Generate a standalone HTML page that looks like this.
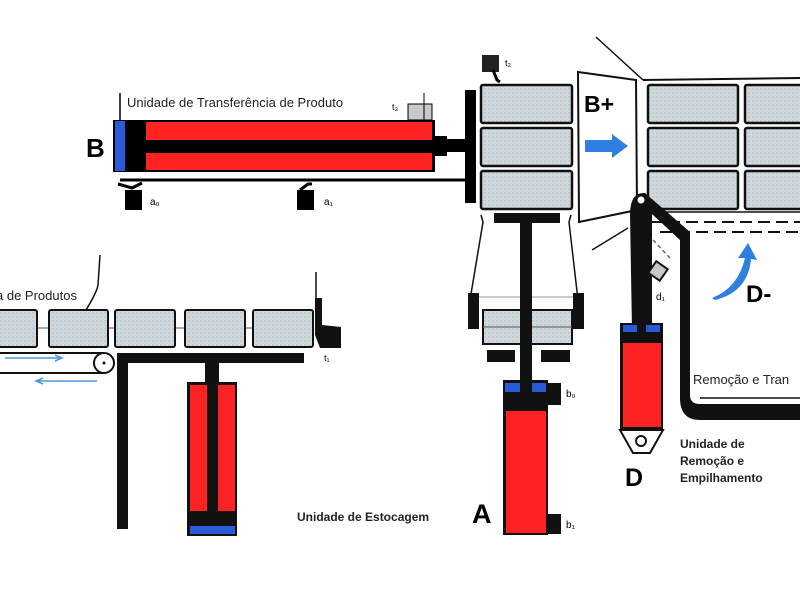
<!DOCTYPE html>
<html><head><meta charset="utf-8"><style>body{margin:0;background:#fff}svg{display:block}text{font-family:"Liberation Sans",sans-serif}</style></head><body>
<svg width="800" height="600" viewBox="0 0 800 600">
<defs><pattern id="g" width="4" height="4" patternUnits="userSpaceOnUse"><rect width="4" height="4" fill="#cfd8dc"/><rect width="2" height="2" fill="#c3ccd0"/></pattern></defs>
<!-- B cylinder -->
<text x="127" y="107" font-size="13" fill="#222">Unidade de Transferência de Produto</text>
<line x1="120" y1="93" x2="120" y2="120" stroke="#000" stroke-width="1.5"/>
<text x="392" y="110" font-size="9">t₃</text>
<rect x="408" y="104" width="24" height="16" fill="#c5c9c9" stroke="#000"/>
<line x1="424" y1="93" x2="424" y2="120" stroke="#000"/>
<rect x="113" y="120" width="322" height="52" fill="#000"/>
<rect x="115" y="121" width="10" height="50" fill="#2a5bd7"/>
<rect x="146" y="122" width="286" height="18" fill="#f22"/>
<rect x="146" y="153" width="286" height="17" fill="#f22"/>
<rect x="432" y="136" width="15" height="20" fill="#000"/>
<rect x="445" y="139" width="22" height="13" fill="#000"/>
<rect x="465" y="90" width="11" height="113" fill="#000"/>
<line x1="120" y1="180" x2="466" y2="180" stroke="#000" stroke-width="3"/>
<text x="86" y="157" font-size="26" font-weight="bold">B</text>
<path d="M118 184 L132 188 L142 183" stroke="#000" stroke-width="3" fill="none"/>
<rect x="125" y="190" width="17" height="20" fill="#000"/>
<text x="150" y="205" font-size="10">a₀</text>
<path d="M300 190 L308 184 L312 184" stroke="#000" stroke-width="3" fill="none"/>
<rect x="297" y="190" width="17" height="20" fill="#000"/>
<text x="324" y="205" font-size="10">a₁</text>
<!-- stack -->
<rect x="482" y="55" width="17" height="17" fill="#222"/>
<path d="M493 70 L497 80 L500 82" stroke="#000" stroke-width="3" fill="none"/>
<text x="505" y="66" font-size="9">t₂</text>
<g fill="url(#g)" stroke="#111" stroke-width="2.5">
<rect x="481" y="85" width="91" height="38" rx="2"/><rect x="481" y="128" width="91" height="38" rx="2"/><rect x="481" y="171" width="91" height="38" rx="2"/>
<rect x="648" y="85" width="90" height="38" rx="2"/><rect x="648" y="128" width="90" height="38" rx="2"/><rect x="648" y="171" width="90" height="38" rx="2"/>
<rect x="745" y="85" width="60" height="38" rx="2"/><rect x="745" y="128" width="60" height="38" rx="2"/><rect x="745" y="171" width="60" height="38" rx="2"/>
</g>
<polygon points="578,72 636,80 637,210 579,222" fill="#fff" stroke="#111" stroke-width="2"/>
<text x="584" y="112" font-size="23" font-weight="bold">B+</text>
<polygon points="585,140 612,140 612,134 628,146 612,158 612,152 585,152" fill="#2f7fe0"/>
<line x1="596" y1="37" x2="643" y2="80" stroke="#111" stroke-width="1.5"/>
<line x1="643" y1="80" x2="800" y2="78" stroke="#111" stroke-width="2"/>
<line x1="640" y1="212" x2="800" y2="212" stroke="#111" stroke-width="1.5"/>
<line x1="650" y1="222" x2="800" y2="222" stroke="#111" stroke-width="2" stroke-dasharray="12,6"/>
<line x1="660" y1="232" x2="800" y2="232" stroke="#111" stroke-width="2" stroke-dasharray="12,6"/>
<line x1="592" y1="250" x2="628" y2="228" stroke="#111" stroke-width="1.5"/>
<!-- D arm -->
<path d="M630 215 Q630 192 645 193 L690 232 L690 395 Q690 404 700 404 L800 404 L800 420 L700 420 Q680 420 680 398 L680 240 L652 214 L652 330 L632 330 Z" fill="#111"/>
<circle cx="641" cy="200" r="3.5" fill="#fff"/>
<line x1="700" y1="398" x2="800" y2="398" stroke="#111" stroke-width="1.5"/>
<line x1="653" y1="240" x2="670" y2="258" stroke="#666" stroke-width="1.5" stroke-dasharray="4,3"/>
<rect x="651" y="264" width="14" height="14" fill="#c5c9c9" stroke="#111" stroke-width="2" transform="rotate(35 658 271)"/>
<text x="656" y="300" font-size="10">d₁</text>
<path d="M712 298 Q738 288 745 258 L738 258 L748 243 L757 260 L751 259 Q748 292 715 300 Z" fill="#2f7fe0"/>
<text x="746" y="302" font-size="24" font-weight="bold">D-</text>
<rect x="632" y="318" width="18" height="10" fill="#111"/>
<rect x="620" y="323" width="43" height="107" fill="#111"/>
<rect x="623" y="325" width="14" height="7" fill="#2a5bd7"/><rect x="646" y="325" width="14" height="7" fill="#2a5bd7"/>
<rect x="623" y="343" width="38" height="84" fill="#f22"/>
<path d="M620 430 L663 430 L650 453 L633 453 Z" fill="#fff" stroke="#111" stroke-width="2"/>
<circle cx="641" cy="441" r="5" fill="#fff" stroke="#111" stroke-width="2"/>
<text x="625" y="486" font-size="25" font-weight="bold">D</text>
<text x="693" y="384" font-size="13" fill="#222">Remoção e Tran</text>
<text x="680" y="448" font-size="12" fill="#222" font-weight="bold">Unidade de</text>
<text x="680" y="465" font-size="12" fill="#222" font-weight="bold">Remoção e</text>
<text x="680" y="482" font-size="12" fill="#222" font-weight="bold">Empilhamento</text>
<!-- A unit -->
<rect x="494" y="213" width="66" height="10" fill="#111"/>
<path d="M481 215 L483 222 L470 300 M571 215 L569 222 L578 300" stroke="#111" stroke-width="1.5" fill="none"/>
<rect x="468" y="293" width="11" height="36" fill="#111"/><rect x="573" y="293" width="11" height="36" fill="#111"/>
<line x1="479" y1="297" x2="573" y2="297" stroke="#999"/>
<rect x="483" y="310" width="89" height="34" fill="url(#g)" stroke="#111" stroke-width="2"/>
<line x1="483" y1="327" x2="572" y2="327" stroke="#555"/>
<rect x="520" y="213" width="12" height="175" fill="#111"/>
<rect x="487" y="350" width="28" height="12" fill="#111"/><rect x="541" y="350" width="29" height="12" fill="#111"/>
<rect x="503" y="380" width="45" height="155" fill="#111"/>
<rect x="505" y="383" width="15" height="9" fill="#2a5bd7"/><rect x="532" y="383" width="14" height="9" fill="#2a5bd7"/>
<rect x="506" y="411" width="40" height="122" fill="#f22"/>
<rect x="548" y="383" width="13" height="22" fill="#111"/><rect x="548" y="514" width="13" height="20" fill="#111"/>
<text x="566" y="397" font-size="10">b₀</text>
<text x="566" y="528" font-size="10">b₁</text>
<text x="472" y="523" font-size="27" font-weight="bold">A</text>
<text x="297" y="521" font-size="12" fill="#222" font-weight="bold">Unidade de Estocagem</text>
<!-- left conveyor -->
<path d="M100 255 L98 285 Q97 292 86 310" stroke="#111" stroke-width="1.5" fill="none"/>
<text x="-4" y="300" font-size="13" fill="#222">a de Produtos</text>
<line x1="0" y1="328" x2="312" y2="328" stroke="#555"/>
<g fill="url(#g)" stroke="#111" stroke-width="2">
<rect x="-3" y="310" width="40" height="37" rx="2"/><rect x="49" y="310" width="59" height="37" rx="2"/><rect x="115" y="310" width="60" height="37" rx="2"/><rect x="185" y="310" width="60" height="37" rx="2"/><rect x="253" y="310" width="60" height="37" rx="2"/>
</g>
<path d="M315 298 L322 298 L322 325 L341 327 L341 348 L320 348 L315 335 Z" fill="#111"/>
<line x1="316" y1="272" x2="316" y2="300" stroke="#111" stroke-width="1.5"/>
<text x="324" y="361" font-size="9">t₁</text>
<line x1="0" y1="353" x2="104" y2="353" stroke="#111" stroke-width="2"/>
<line x1="0" y1="373" x2="104" y2="373" stroke="#111" stroke-width="2"/>
<circle cx="104" cy="363" r="10" fill="#fff" stroke="#111" stroke-width="2"/>
<circle cx="104" cy="363" r="1.5" fill="#111"/>
<path d="M5 358 L60 358 M55 355 L62 358 L55 361" stroke="#4a9ad8" stroke-width="1.5" fill="none"/>
<path d="M38 381 L97 381 M43 378 L36 381 L43 384" stroke="#4a9ad8" stroke-width="1.5" fill="none"/>
<rect x="118" y="353" width="186" height="10" fill="#111"/>
<rect x="117" y="353" width="11" height="176" fill="#111"/>
<rect x="205" y="362" width="14" height="22" fill="#111"/>
<rect x="187" y="382" width="50" height="154" fill="#111"/>
<rect x="190" y="385" width="17" height="126" fill="#f22"/><rect x="218" y="385" width="17" height="126" fill="#f22"/>
<rect x="190" y="526" width="45" height="8" fill="#2a5bd7"/>
</svg>
</body></html>
